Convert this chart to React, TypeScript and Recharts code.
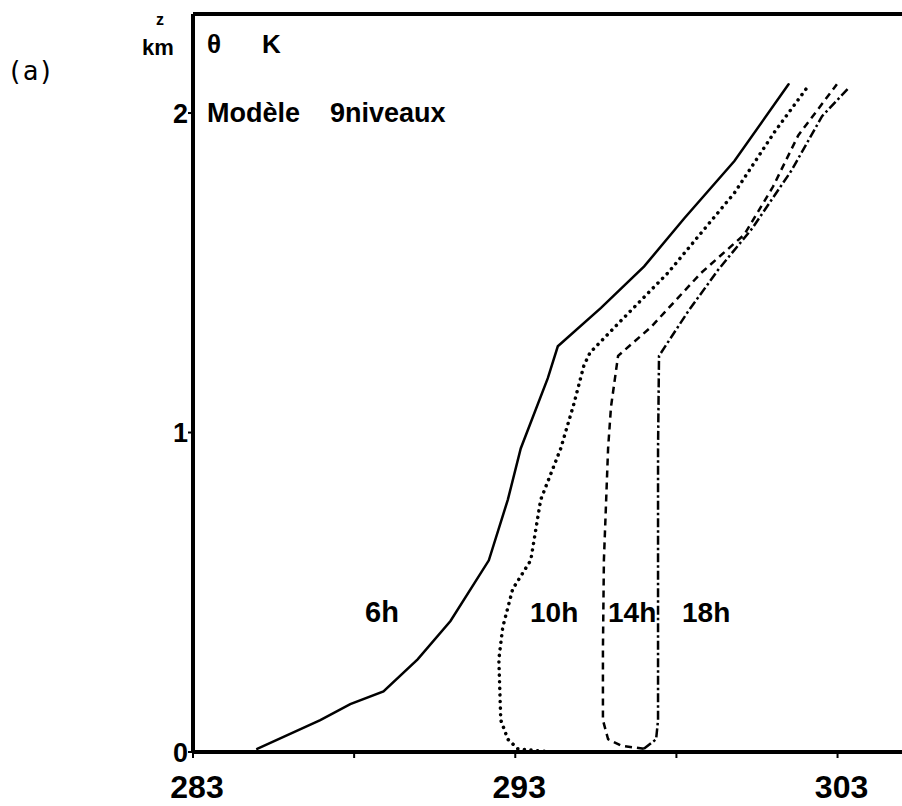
import React from 'react';
import { ScatterChart, Scatter, XAxis, YAxis, ReferenceLine } from 'recharts';

// potential temperature (K) and height (km)
const temp6h = [284.99, 286.95, 287.88, 288.91, 289.97, 290.99, 292.18, 292.77, 293.17, 294.01, 294.32, 295.66, 297.0, 298.24, 299.8, 301.48];
const z6h = [0.01, 0.1, 0.15, 0.19, 0.29, 0.41, 0.6, 0.79, 0.95, 1.17, 1.27, 1.39, 1.52, 1.67, 1.85, 2.09];

const temp10h = [294.1, 293.08, 292.77, 292.55, 292.49, 292.61, 292.92, 293.48, 293.79, 294.41, 294.82, 295.13, 295.32, 296.28, 297.74, 299.8, 301.04, 302.13];
const z10h = [0.0, 0.01, 0.04, 0.1, 0.29, 0.39, 0.51, 0.6, 0.79, 0.95, 1.09, 1.21, 1.25, 1.35, 1.5, 1.75, 1.94, 2.09];

const temp14h = [296.99, 296.28, 295.88, 295.72, 295.72, 295.75, 295.88, 295.97, 296.19, 297.21, 298.77, 300.11, 301.0, 301.78, 302.98];
const z14h = [0.01, 0.02, 0.04, 0.1, 0.32, 0.6, 0.95, 1.08, 1.24, 1.33, 1.5, 1.62, 1.77, 1.93, 2.09];

const temp18h = [296.99, 297.37, 297.43, 297.43, 297.46, 298.37, 299.3, 300.36, 301.57, 302.52, 303.36];
const z18h = [0.01, 0.04, 0.1, 0.95, 1.24, 1.38, 1.51, 1.64, 1.82, 1.99, 2.08];

const xTicks = [283, 288, 293, 298, 303];
const xLabelled = [283, 293, 303];
const yTicks = [0, 1, 2];

const toPoints = (t: number[], z: number[]) => t.map((T, i) => ({ T, z: z[i] }));

const FONT = "'Liberation Sans', Arial, sans-serif";

const series = [
    { name: '6h', data: toPoints(temp6h, z6h), dash: undefined, width: 2.5, cap: 'round' },
    { name: '10h', data: toPoints(temp10h, z10h), dash: '0.1 6.5', width: 3.5, cap: 'round' },
    { name: '14h', data: toPoints(temp14h, z14h), dash: '7 5', width: 2.5, cap: 'butt' },
    { name: '18h', data: toPoints(temp18h, z18h), dash: '9 3 2.5 3', width: 2.5, cap: 'butt' },
];

const App: React.FC = () => {
    return (
        <div style={{ position: 'absolute', left: 0, top: 0, background: '#fff' }}>
            <ScatterChart width={902} height={806} margin={{ top: 14, right: 0, bottom: 4, left: 133 }}>
                <XAxis
                    type="number"
                    dataKey="T"
                    domain={[283, 305]}
                    ticks={xTicks}
                    tickFormatter={(v: number) => (xLabelled.includes(v) ? String(v) : '')}
                    height={50}
                    tickSize={6}
                    tickMargin={17}
                    axisLine={{ stroke: '#000', strokeWidth: 4 }}
                    tickLine={{ stroke: '#000', strokeWidth: 2 }}
                    tick={{ fill: '#000', fontSize: 32, fontWeight: 700, fontFamily: FONT, dx: 4 }}
                    allowDataOverflow
                />
                <YAxis
                    type="number"
                    dataKey="z"
                    domain={[0, 2.31]}
                    ticks={yTicks}
                    width={60}
                    tickSize={5}
                    tickMargin={0}
                    axisLine={{ stroke: '#000', strokeWidth: 4 }}
                    tickLine={{ stroke: '#000', strokeWidth: 2 }}
                    tick={{ fill: '#000', fontSize: 27, fontWeight: 700, fontFamily: FONT }}
                    allowDataOverflow
                />
                <ReferenceLine y={2.31} stroke="#000" strokeWidth={4} />
                {series.map(s => (
                    <Scatter
                        key={s.name}
                        name={s.name}
                        data={s.data}
                        fill="none"
                        line={{ stroke: '#000', strokeWidth: s.width, strokeDasharray: s.dash, strokeLinecap: s.cap }}
                        lineType="joint"
                        shape={() => <g />}
                        isAnimationActive={false}
                    />
                ))}
                {/* annotations */}
                <text x={7} y={80} fontSize={26} fontFamily="'DejaVu Sans Mono', monospace">(a)</text>
                <text x={156} y={25} fontSize={16} fontWeight={700} fontFamily={FONT}>z</text>
                <text x={142} y={55} fontSize={22} fontWeight={700} fontFamily={FONT}>km</text>
                <text x={207} y={53} fontSize={26} fontWeight={700} fontFamily={FONT}>θ</text>
                <text x={262} y={53} fontSize={26} fontWeight={700} fontFamily={FONT}>K</text>
                <text x={207} y={122} fontSize={27} fontWeight={700} fontFamily={FONT}>Modèle</text>
                <text x={330} y={122} fontSize={27} fontWeight={700} fontFamily={FONT}>9niveaux</text>
                <text x={365} y={622} fontSize={29} fontWeight={700} fontFamily={FONT}>6h</text>
                <text x={530} y={622} fontSize={28} fontWeight={700} fontFamily={FONT}>10h</text>
                <text x={608} y={622} fontSize={28} fontWeight={700} fontFamily={FONT}>14h</text>
                <text x={682} y={622} fontSize={28} fontWeight={700} fontFamily={FONT}>18h</text>
            </ScatterChart>
        </div>
    );
};

export default App;
